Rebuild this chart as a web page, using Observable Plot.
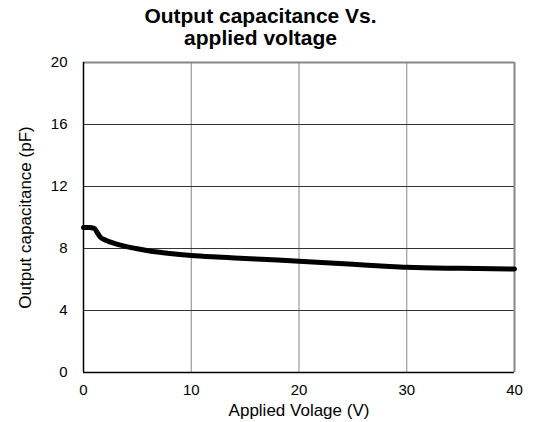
<!DOCTYPE html>
<html><head><meta charset="utf-8">
<script src="https://cdn.jsdelivr.net/npm/d3@7"></script>
<script src="https://cdn.jsdelivr.net/npm/@observablehq/plot@0.6"></script>
<style>
body{margin:0;background:#fff;font-family:"Liberation Sans",Arial,sans-serif;}
#title{width:533px;height:52px;text-align:center;font-weight:bold;font-size:21px;line-height:22px;box-sizing:border-box;padding-top:5px;padding-right:12px;color:#000;}
</style></head><body>
<div id="title">Output capacitance Vs.<br>applied voltage</div>
<div id="chart"></div>
<script>
const voltage = [0, 0.5, 1.0, 1.3, 1.6, 2, 3, 4, 5, 6, 8, 10, 12, 15, 18, 20, 25, 28, 30, 35, 40];
const capacitance = [9.35, 9.35, 9.3, 9.0, 8.7, 8.55, 8.3, 8.12, 7.98, 7.86, 7.68, 7.55, 7.46, 7.36, 7.26, 7.18, 6.98, 6.86, 6.79, 6.72, 6.68];
const xTicks = [0, 10, 20, 30, 40];
const yTicks = [0, 4, 8, 12, 16, 20];
const data = voltage.map((v, i) => ({v, c: capacitance[i]}));

const chart = Plot.plot({
  width: 533, height: 370,
  marginTop: 10, marginBottom: 50, marginLeft: 83, marginRight: 19,
  style: {fontFamily: "'Liberation Sans', Arial, sans-serif", fontSize: "15px", color: "#000", background: "#fff"},
  x: {domain: [0, 40], ticks: xTicks},
  y: {domain: [0, 20], ticks: yTicks},
  marks: [
    Plot.gridX(xTicks.slice(1, -1), {stroke: "#888", strokeOpacity: 1, strokeWidth: 1}),
    Plot.gridY(yTicks.slice(1, -1), {stroke: "#333", strokeOpacity: 1, strokeWidth: 1}),
    Plot.ruleX([40], {stroke: "#888", strokeWidth: 2}),
    Plot.ruleY([20], {stroke: "#888", strokeWidth: 2}),
    Plot.ruleX([0], {stroke: "#000", strokeWidth: 1.5}),
    Plot.ruleY([0], {stroke: "#000", strokeWidth: 1.5}),
    Plot.axisX(xTicks, {tickSize: 0, tickPadding: 12, fontSize: 15, label: "Applied Volage (V)", labelAnchor: "center", labelArrow: "none", labelOffset: 43}),
    Plot.axisY(yTicks, {tickSize: 0, tickPadding: 16, fontSize: 15, label: "Output capacitance (pF)", labelAnchor: "center", labelArrow: "none", labelOffset: 65}),
    Plot.line(data, {x: "v", y: "c", stroke: "#000", strokeWidth: 5, curve: "monotone-x"})
  ]
});
chart.querySelectorAll("[aria-label='x-axis label'] text, [aria-label='y-axis label'] text").forEach(t => t.style.fontSize = "17px");
document.getElementById("chart").appendChild(chart);
</script>
</body></html>
